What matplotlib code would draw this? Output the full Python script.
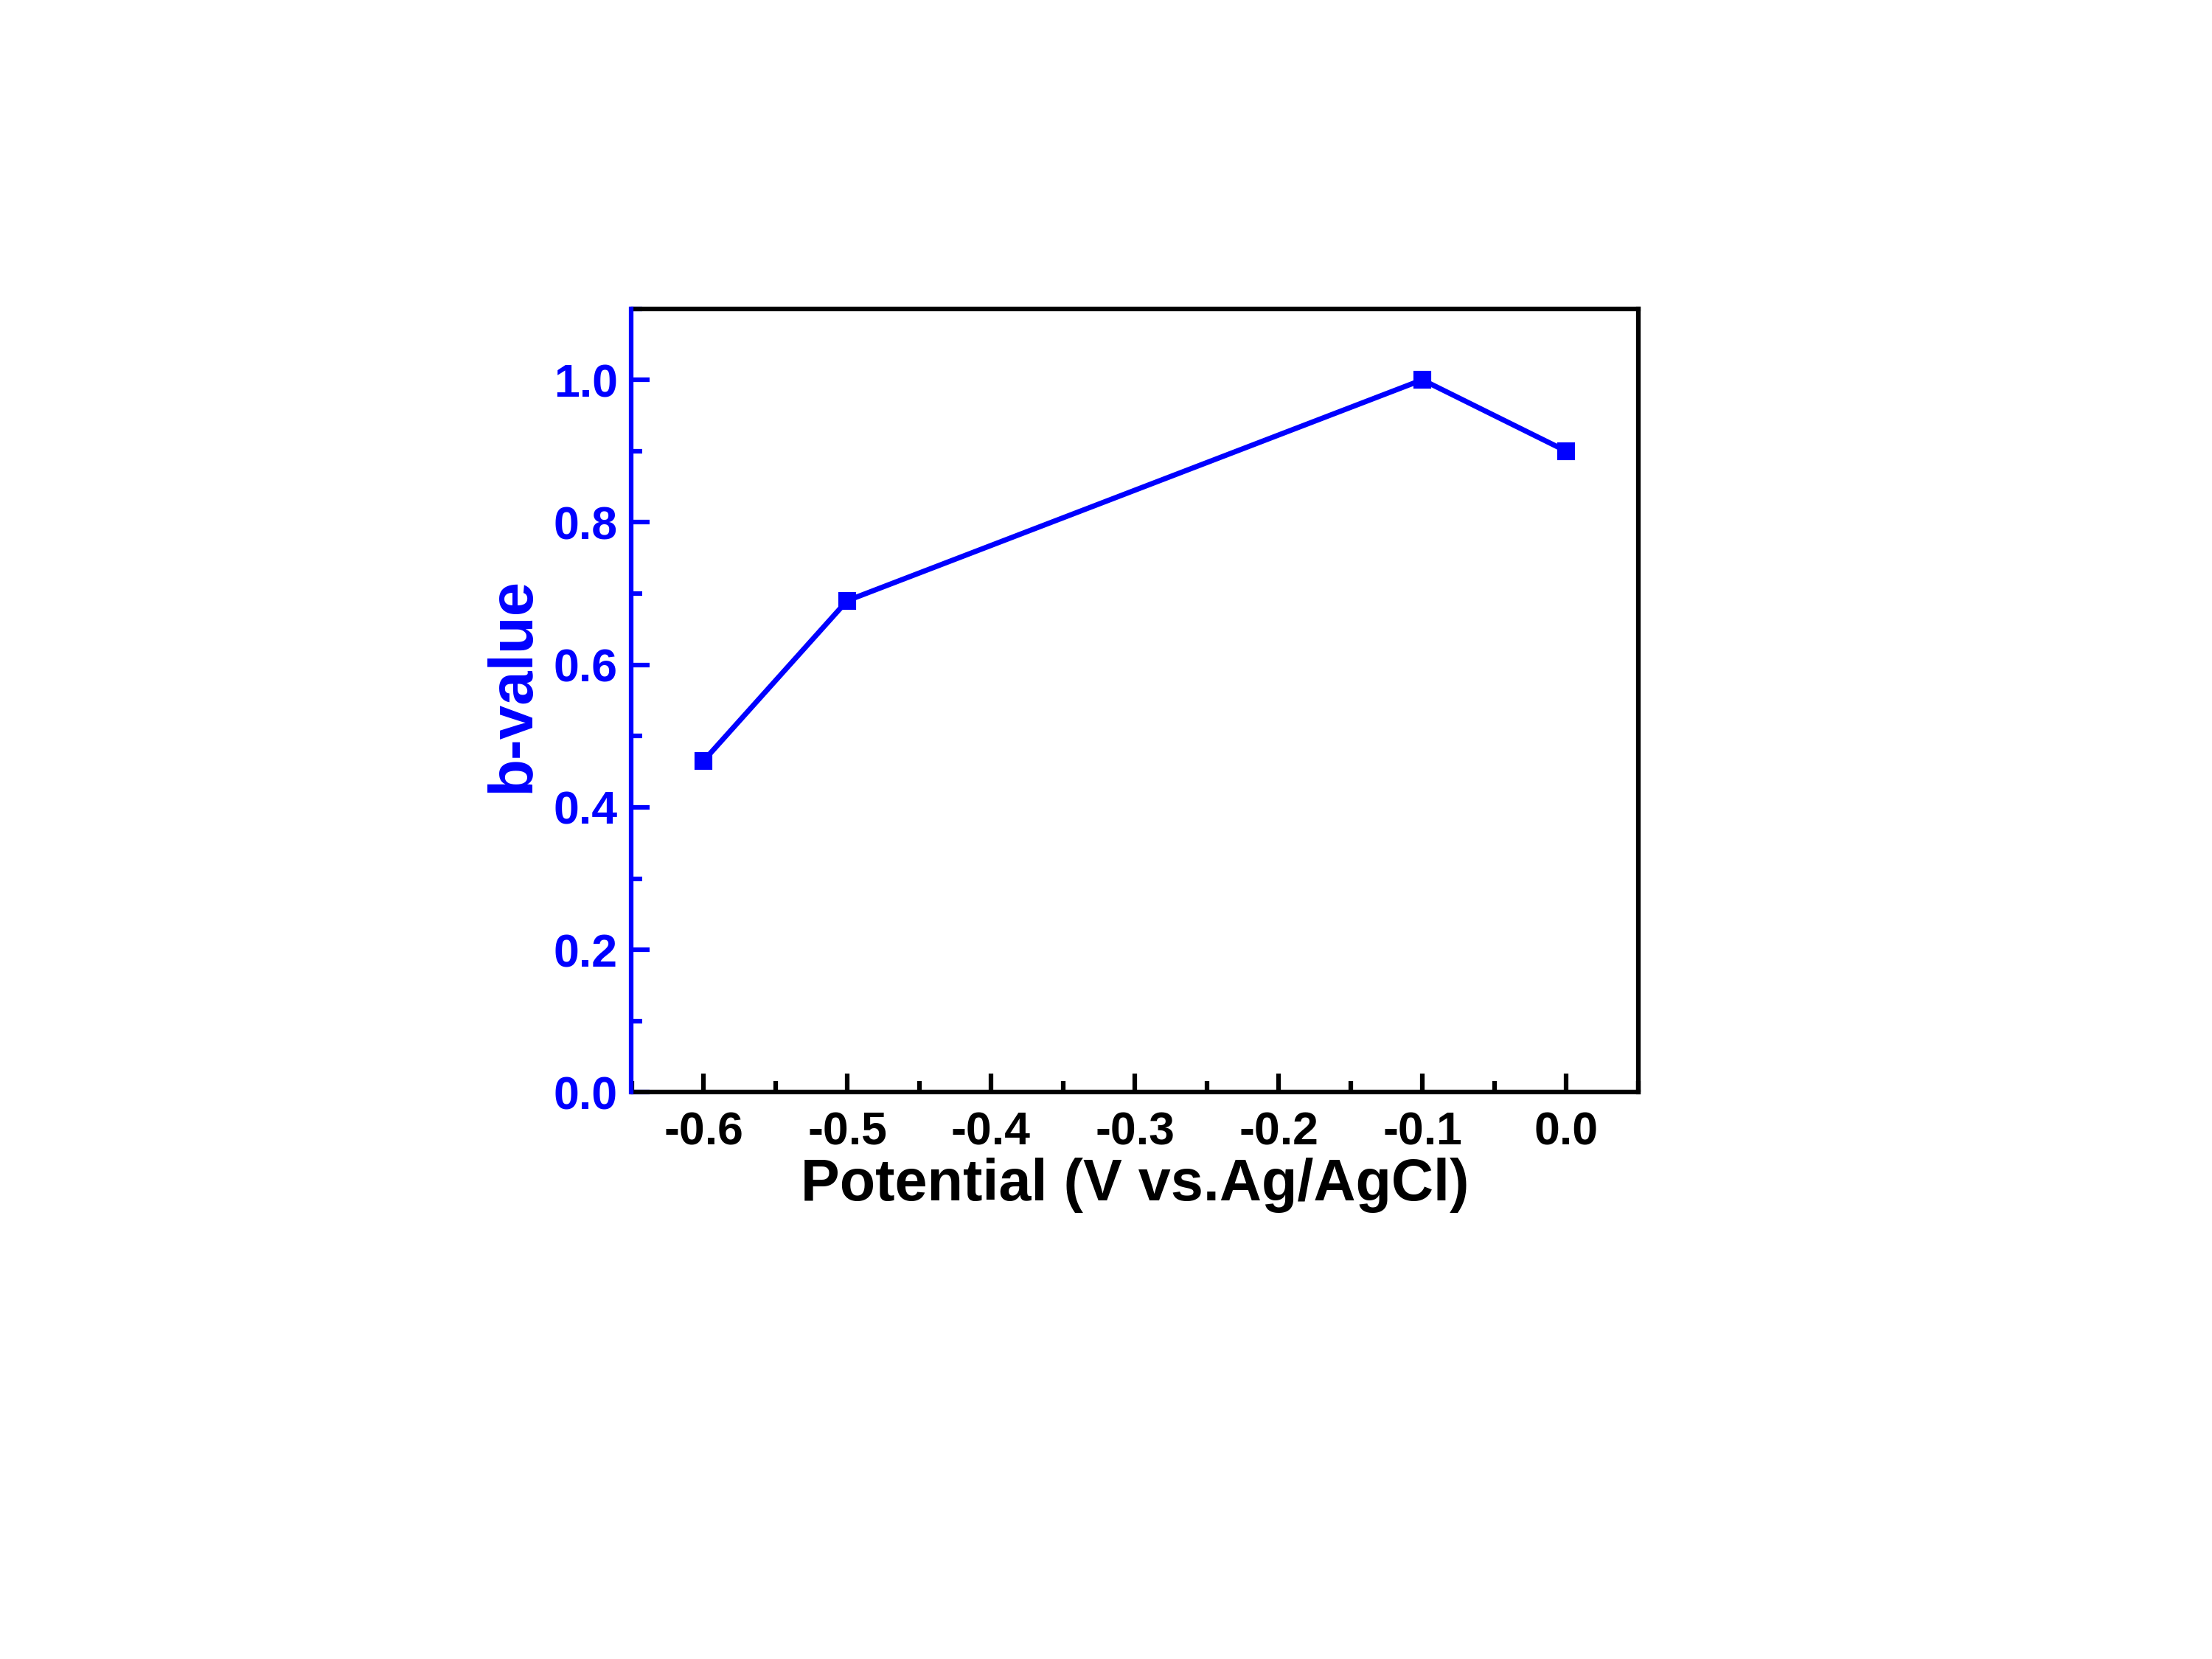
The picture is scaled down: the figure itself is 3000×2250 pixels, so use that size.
import matplotlib.pyplot as plt
from matplotlib.ticker import MultipleLocator

potential = [-0.6, -0.5, -0.1, 0.0]
b_value = [0.465, 0.69, 1.0, 0.9]

blue = '#0000ff'

plt.rcParams['font.family'] = ['Liberation Sans', 'DejaVu Sans']
plt.rcParams['font.weight'] = 'bold'

fig = plt.figure(figsize=(10, 7.5), dpi=300)
ax = fig.add_axes([0.2855, 0.3416, 0.455, 0.4724])

ax.plot(potential, b_value, color=blue, lw=1.7, marker='s', ms=5)

ax.set_xlim(-0.65, 0.05)
ax.set_ylim(0, 1.1)
ax.xaxis.set_major_locator(MultipleLocator(0.1))
ax.xaxis.set_minor_locator(MultipleLocator(0.05))
ax.yaxis.set_major_locator(MultipleLocator(0.2))
ax.yaxis.set_minor_locator(MultipleLocator(0.1))

for side in ['top', 'right', 'bottom']:
    ax.spines[side].set_linewidth(1.5)
    ax.spines[side].set_color('black')
ax.spines['left'].set_linewidth(1.5)
ax.spines['left'].set_color(blue)
ax.spines['left'].set_zorder(3)

ax.tick_params(axis='both', which='both', direction='in', width=1.5)
ax.tick_params(axis='both', which='major', length=6, labelsize=15)
ax.tick_params(axis='x', which='major', pad=6)
ax.tick_params(axis='y', which='major', pad=4.5)
ax.tick_params(axis='both', which='minor', length=3.5)
ax.tick_params(axis='y', which='both', colors=blue)
ax.tick_params(axis='x', which='both', colors='black')

ax.xaxis.set_major_formatter(plt.FuncFormatter(lambda v, p: f'{v:.1f}'.replace('-0.0', '0.0')))
ax.yaxis.set_major_formatter(plt.FuncFormatter(lambda v, p: f'{v:.1f}'))
for lab in ax.get_xticklabels() + ax.get_yticklabels():
    lab.set_fontweight('bold')

ax.set_xlabel('Potential (V vs.Ag/AgCl)', fontsize=19, fontweight='bold', labelpad=1)
ax.set_ylabel('b-value', fontsize=20, fontweight='bold', color=blue, va='center')
ax.yaxis.set_label_coords(-0.118, 0.52)

fig.savefig('out.png', dpi=300, facecolor='white')
